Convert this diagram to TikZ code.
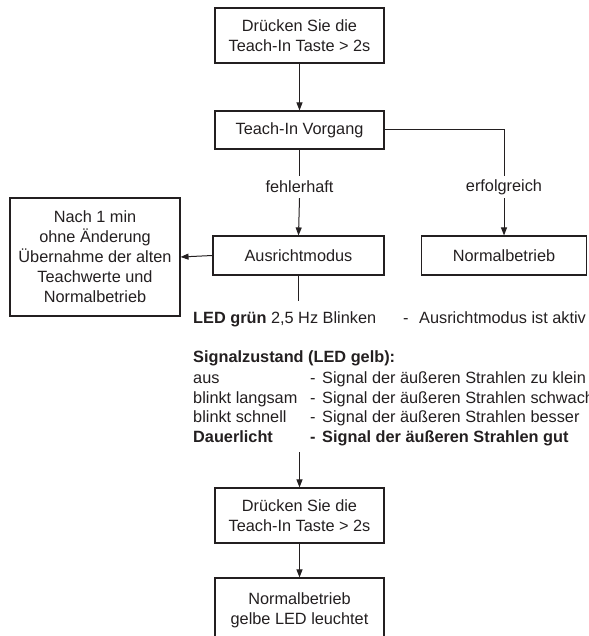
\documentclass[tikz,border=0pt]{standalone}
\usepackage{fontspec}
\setmainfont{Liberation Sans}
\usetikzlibrary{arrows.meta}
\definecolor{ink}{HTML}{231F20}
\tikzset{
  box/.style={draw=ink, line width=1.1pt, rectangle, inner sep=0pt, align=center, text=ink},
  lbl/.style={inner sep=0pt, minimum height=22pt, text=ink},
  txt/.style={anchor=base west, inner sep=0pt, text=ink},
  conn/.style={draw=ink, line width=1pt},
  arr/.style={conn, -{Triangle[length=8pt,width=6pt]}}
}
\begin{document}
\begin{tikzpicture}[x=1pt,y=-1pt,font=\fontsize{16.3}{20}\selectfont]
\useasboundingbox (0,0) rectangle (588,636);
\clip (0,0) rectangle (588,636);
% boxes
\node[box, minimum width=169pt, minimum height=55pt] (b1) at (299.5,35.5) {Drücken Sie die\\Teach-In Taste > 2s};
\node[box, minimum width=169pt, minimum height=38pt] (tv) at (299.5,130) {Teach-In Vorgang};
\node[lbl] (feh) at (299.5,187) {fehlerhaft};
\node[lbl] (erf) at (504,187) {erfolgreich};
\node[box, minimum width=171pt, minimum height=39pt] (aus) at (298.5,255.5) {Ausrichtmodus};
\node[box, minimum width=165pt, minimum height=39pt] (nb) at (504,255.5) {Normalbetrieb};
\node[box, minimum width=170pt, minimum height=118pt, text depth=0pt] (lb) at (95,257) {Nach 1 min\\ohne Änderung\\Übernahme der alten\\Teachwerte und\\Normalbetrieb};
\node[box, minimum width=169pt, minimum height=55pt] (b3) at (299.5,515.5) {Drücken Sie die\\Teach-In Taste > 2s};
\node[box, minimum width=169pt, minimum height=64pt] (b4) at (299.5,610) {Normalbetrieb\\gelbe LED leuchtet};
% text block
\node[txt] (t1a) at (193,323) {\textbf{LED grün} 2,5 Hz Blinken};
\node[txt] (t1b) at (403,323) {-};
\node[txt] (t1c) at (419,323) {Ausrichtmodus ist aktiv};
\node[txt] (t2) at (193,362) {\textbf{Signalzustand (LED gelb):}};
\node[txt] (t3a) at (193,383) {aus};
\node[txt] (t3b) at (310,383) {-};
\node[txt] (t3c) at (322,383) {Signal der äußeren Strahlen zu klein};
\node[txt] (t4a) at (193,403) {blinkt langsam};
\node[txt] (t4b) at (310,403) {-};
\node[txt] (t4c) at (322,403) {Signal der äußeren Strahlen schwach};
\node[txt] (t5a) at (193,422) {blinkt schnell};
\node[txt] (t5b) at (310,422) {-};
\node[txt] (t5c) at (322,422) {Signal der äußeren Strahlen besser};
\node[txt] (t6a) at (193,442) {\textbf{Dauerlicht}};
\node[txt] (t6b) at (310,442) {\textbf{-}};
\node[txt] (t6c) at (322,442) {\textbf{Signal der äußeren Strahlen gut}};
\coordinate (ausend) at (298.5,301);
\coordinate (b3start) at (299.5,452);
% connectors
\draw[arr] (b1) -- (tv);
\draw[conn] (tv.south) -- (feh.north);
\draw[arr] (feh.south) -- (aus.north);
\draw[conn] (tv.east) -| (erf.north);
\draw[arr] (erf.south) -- (nb.north);
\draw[arr] (aus.west) -- (lb.east);
\draw[conn] (aus.south) -- (ausend);
\draw[arr] (b3start) -- (b3.north);
\draw[arr] (b3.south) -- (b4.north);
\end{tikzpicture}
\end{document}
